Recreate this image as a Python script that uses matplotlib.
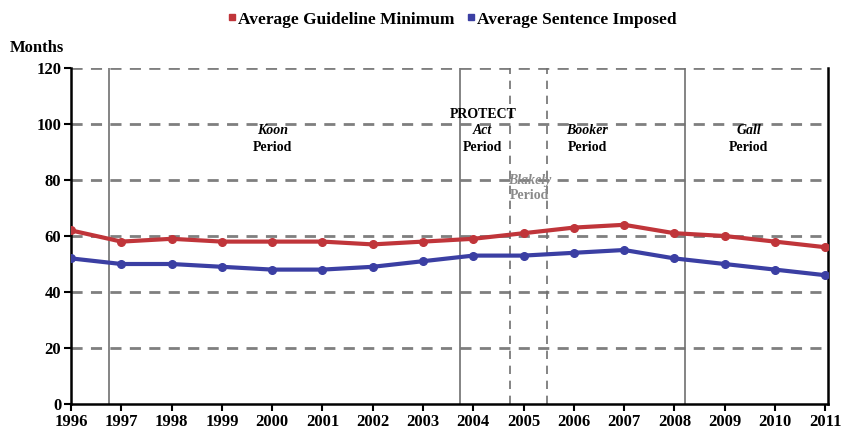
import matplotlib
matplotlib.use("Agg")
import matplotlib.pyplot as plt
from matplotlib.lines import Line2D

years = list(range(1996, 2012))
guideline_min = [62, 58, 59, 58, 58, 58, 57, 58, 59, 61, 63, 64, 61, 60, 58, 56]
sentence_imposed = [52, 50, 50, 49, 48, 48, 49, 51, 53, 53, 54, 55, 52, 50, 48, 46]
yticks = [0, 20, 40, 60, 80, 100, 120]

solid_periods = [1996.75, 2003.74, 2008.22]
dashed_periods = [2004.74, 2005.47]

red = "#C0353A"
blue = "#3B3FA3"
font = "Liberation Serif"

fig = plt.figure(figsize=(8.46, 4.32), dpi=100)
ax = fig.add_axes([0.0840, 0.0648, 0.895, 0.7778])

for y in yticks[1:]:
    ax.axhline(y, color="#7f7f7f", lw=2, ls=(0, (4, 3)), zorder=1)
for x in solid_periods:
    ax.axvline(x, color="#707070", lw=1.2, zorder=1)
for x in dashed_periods:
    ax.axvline(x, color="#707070", lw=1.2, ls=(0, (5, 4)), zorder=1)

ax.plot(years, guideline_min, color=red, lw=3, marker="o", ms=5.5, zorder=3)
ax.plot(years, sentence_imposed, color=blue, lw=3, marker="o", ms=5.5, zorder=3)

ax.set_xlim(1996, 2011.06)
ax.set_ylim(0, 120)
ax.set_xticks(years)
ax.set_yticks(yticks)
ax.tick_params(direction="out", length=5, width=1.5, colors="black", pad=2)
for lab in ax.get_xticklabels() + ax.get_yticklabels():
    lab.set_fontfamily(font)
    lab.set_fontweight("bold")
    lab.set_fontsize(12)
for s in ["left", "bottom", "right"]:
    ax.spines[s].set_linewidth(1.8)
    ax.spines[s].set_color("black")
ax.spines["top"].set_visible(False)

kw = dict(ha="center", va="center", fontfamily=font, fontweight="bold", fontsize=10)
ax.text(2000.0, 97.5, "Koon", style="italic", **kw)
ax.text(2000.0, 91.5, "Period", **kw)
ax.text(2004.19, 103.5, "PROTECT", **kw)
ax.text(2004.19, 97.5, "Act", style="italic", **kw)
ax.text(2004.19, 91.5, "Period", **kw)
ax.text(2006.27, 97.5, "Booker", style="italic", **kw)
ax.text(2006.27, 91.5, "Period", **kw)
ax.text(2009.48, 97.5, "Gall", style="italic", **kw)
ax.text(2009.48, 91.5, "Period", **kw)
kw2 = dict(kw)
kw2["color"] = "#8a8a8a"
ax.text(2005.12, 80, "Blakely", style="italic", **kw2)
ax.text(2005.12, 74.5, "Period", **kw2)

fig.text(0.012, 0.89, "Months", fontfamily=font, fontweight="bold", fontsize=12, ha="left", va="center")

handles = [
    Line2D([], [], color=red, marker="s", ls="none", ms=4),
    Line2D([], [], color=blue, marker="s", ls="none", ms=4),
]
fig.legend(handles, ["Average Guideline Minimum", "Average Sentence Imposed"],
           loc="center", bbox_to_anchor=(0.535, 0.955), ncol=2, frameon=False,
           prop={"family": font, "weight": "bold", "size": 12.5},
           handlelength=0.4, handletextpad=0.1, columnspacing=0.8)

fig.savefig("out.png", dpi=100)
